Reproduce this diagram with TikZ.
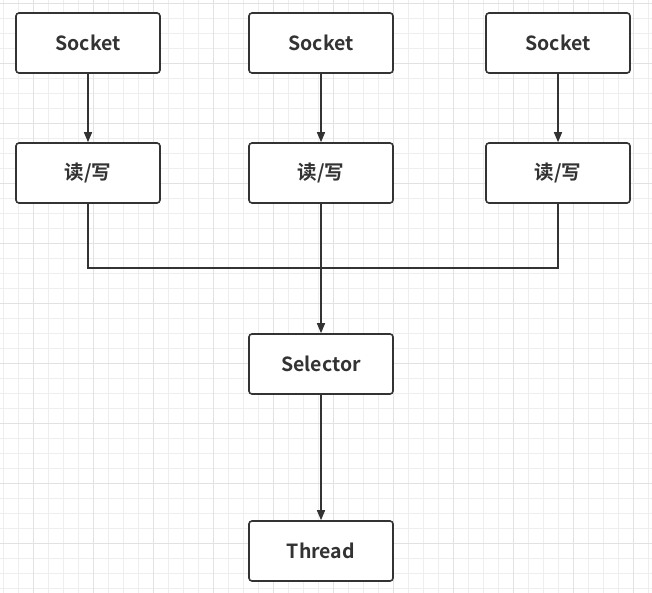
\documentclass[tikz,border=0pt]{standalone}
\usepackage{fontspec}
\setmainfont{Noto Sans CJK SC}[BoldFont={Noto Sans CJK SC Bold}]
\usetikzlibrary{arrows.meta}
\definecolor{ink}{HTML}{333333}
\definecolor{gridminor}{HTML}{EEEEEE}
\definecolor{gridmajor}{HTML}{E2E2E2}
\tikzset{
  box/.style={draw=ink, line width=1.6pt, rounded corners=3pt, fill=white,
    minimum width=144pt, minimum height=60pt, inner sep=0pt,
    font=\fontsize{19.5}{22}\selectfont\bfseries, text=ink},
  conn/.style={draw=ink, line width=1.5pt, -{Triangle[length=10pt,width=8pt]}},
  plain/.style={draw=ink, line width=1.5pt}
}
\begin{document}
\begin{tikzpicture}[x=1pt,y=-1pt]
\useasboundingbox (0,0) rectangle (652,593);
\fill[white] (0,0) rectangle (652,593);
% grid
\foreach \i in {0,...,43} {
  \draw[gridminor, line width=1pt] ({3.3+15*\i},0) -- ({3.3+15*\i},593);
}
\foreach \i in {0,...,39} {
  \draw[gridminor, line width=1pt] (0,{3.3+15*\i}) -- (652,{3.3+15*\i});
}
\foreach \i in {0,...,10} {
  \draw[gridmajor, line width=1pt] ({33.3+60*\i},0) -- ({33.3+60*\i},593);
}
\foreach \i in {0,...,9} {
  \draw[gridmajor, line width=1pt] (0,{3.3+60*\i}) -- (652,{3.3+60*\i});
}
% nodes
\node[box] (s1) at (88,43) {Socket};
\node[box] (s2) at (321,43) {Socket};
\node[box] (s3) at (558,43) {Socket};
\node[box] (r1) at (88,173) {读/写};
\node[box] (r2) at (321,173) {读/写};
\node[box] (r3) at (558,173) {读/写};
\node[box] (sel) at (321,364) {Selector};
\node[box] (th) at (321,551) {Thread};
\coordinate (j) at (321,268);
% connectors
\draw[conn] (s1) -- (r1);
\draw[conn] (s2) -- (r2);
\draw[conn] (s3) -- (r3);
\draw[plain] (r1.south) |- (j);
\draw[plain] (r3.south) |- (j);
\draw[conn] (r2) -- (sel);
\draw[conn] (sel) -- (th);
\end{tikzpicture}
\end{document}
